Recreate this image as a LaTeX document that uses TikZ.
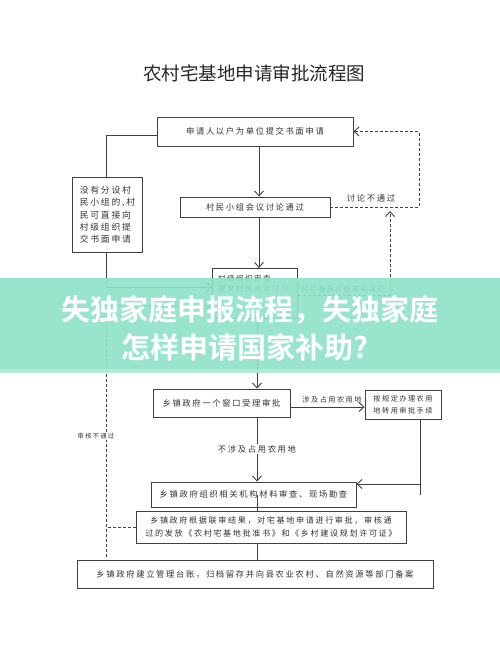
\documentclass[tikz,border=0pt]{standalone}
\usepackage{fontspec}
\usetikzlibrary{arrows.meta}
\newfontfamily\cjk[LetterSpace=20]{Noto Sans CJK SC}
\newfontfamily\cjkt{Noto Sans CJK SC}
\newfontfamily\cjkb{Noto Sans CJK SC Bold}
\definecolor{lnc}{HTML}{404040}
\definecolor{txc}{HTML}{333333}
\definecolor{mint}{HTML}{8EE2C7}
\newcommand{\fs}[1]{\fontsize{#1}{#1}\selectfont}
\begin{document}
\begin{tikzpicture}[x=1pt,y=-1pt,
  box/.style={draw=lnc, line width=0.9pt, fill=white, inner sep=0pt, text=txc, align=center, font=\cjk\fs{8.3}},
  arr/.style={draw=lnc, line width=0.9pt, -{Straight Barb[length=5pt,width=9pt]}},
  lnn/.style={draw=lnc, line width=0.9pt},
  dsh/.style={draw=lnc, line width=0.9pt, dash pattern=on 3pt off 2pt},
  lab/.style={text=txc, inner sep=1pt, font=\cjk\fs{8.3}}
]
\useasboundingbox (0,0) rectangle (500,653);
\fill[white] (0,0) rectangle (500,653);

\node[text=black!85, font=\cjkt\fs{18.5}] (title) at (254,73) {农村宅基地申请审批流程图};

\coordinate (mxa) at (259,0);
\coordinate (mxb) at (257,0);
\coordinate (rx) at (419,0);
\coordinate (up) at (390,211);
\coordinate (c5) at (420,0);
\coordinate (lx) at (106,0);

\node[box, minimum width=196pt, minimum height=29pt] (b1) at (255,131.5) {申请人以户为单位提交书面申请};
\node[box, minimum width=150pt, minimum height=20pt] (b2) at (255,207) {村民小组会议讨论通过};
\node[box, minimum width=70pt, minimum height=75pt, font=\cjk\fs{8.8}, align=left] (bl) at (107.5,214.5)
  {没有分设村\\[3.2pt]民小组的,村\\[3.2pt]民可直接向\\[3.2pt]村级组织提\\[3.2pt]交书面申请};
\node[box, minimum width=85pt, minimum height=50pt, anchor=north west] (b3) at (212,268) {};
\node[txc, font=\cjk\fs{7.5}, align=left, anchor=north west, inner sep=0pt] (b3t) at (218,275)
  {村级组织审查，\\[2pt]提交村民会议讨论};
\node[box, minimum width=137pt, minimum height=28pt] (b4) at (221.5,403) {乡镇政府一个窗口受理审批};
\node[box, minimum width=76pt, minimum height=29pt, font=\cjk\fs{7.2}] (b5) at (403,404.5)
  {按规定办理农用\\[4.5pt]地转用审批手续};
\node[box, minimum width=205pt, minimum height=25pt] (b7) at (253.5,494.5) {乡镇政府组织相关机构材料审查、现场勘查};
\node[box, minimum width=270pt, minimum height=32pt, font=\cjk\fs{8.1}] (b8) at (271,527)
  {乡镇政府根据联审结果，对宅基地申请进行审批，审核通\\[5pt]过的发放《农村宅基地批准书》和《乡村建设规划许可证》};
\node[box, minimum width=356pt, minimum height=28pt] (b9) at (255,574) {乡镇政府建立管理台账，归档留存并向县农业农村、自然资源等部门备案};

% main flow
\draw[arr] (b1.south -| mxa) -- (b2.north -| mxa);
\draw[arr] (b2.south -| mxa) -- (b3.north -| mxa);
\draw[arr] (b3.south -| mxb) -- (b4.north -| mxb);
\draw[arr] (b4.south -| mxb) -- (b7.north -| mxb);
\node[lab, fill=white] (l4) at (257,449) {不涉及占用农用地};
\draw[lnn] (b7.center -| mxb) -- (b8.north -| mxb);
\draw[lnn] (b8.south -| mxb) -- (b9.north -| mxb);

% feedback from b2
\draw[dsh, -{Straight Barb[length=5pt,width=9pt]}] (b2.east) -| (rx |- b1.east) -- (b1.east);
\node[lab, anchor=south] (l2) at (371,203) {讨论不通过};

% from b3 up
\draw[dsh, -{Straight Barb[length=5pt,width=9pt]}] (b3.east |- 0,295) -| (up);
\node[lab, anchor=south, font=\cjk\fs{7}] (l3) at (343,293) {公示有异议且查实成立};

% left box
\draw[lnn] (b1.west |- 0,135) -| (bl.north -| lx);
\draw[arr] (bl.south -| lx) |- (b3.west |- 0,287);

% b4 -> b5
\draw[arr] (b4.east |- 0,407) -- (b5.west |- 0,407);
\node[lab, anchor=south, font=\cjk\fs{7.2}] (l5) at (332,404) {涉及占用农用地};
\draw[lnn] (b5.south -| c5) -- (c5 |- 0,495);
\draw[arr] (c5 |- 0,484) -- (b7.east |- 0,484);

% audit failure
\draw[dsh] (b8.west) -- (b8.west -| lx);
\draw[dsh, -{Straight Barb[length=5pt,width=9pt]}] (lx |- 0,557) -- (lx |- 0,305) -- (b3.west |- 0,305);
\node[lab, fill=white, font=\cjk\fs{6.3}] (l6) at (96,436) {审核不通过};

% banner overlay
\fill[mint, opacity=0.9] (0,278) rectangle (500,373);
\fill[white, opacity=0.25] (0,369) rectangle (500,373);
\node[white, font=\cjkb\fs{29}] (ban1) at (250,310) {失独家庭申报流程，失独家庭};
\node[white, font=\cjkb\fs{29}] (ban2) at (245,347) {怎样申请国家补助?};
\end{tikzpicture}
\end{document}
